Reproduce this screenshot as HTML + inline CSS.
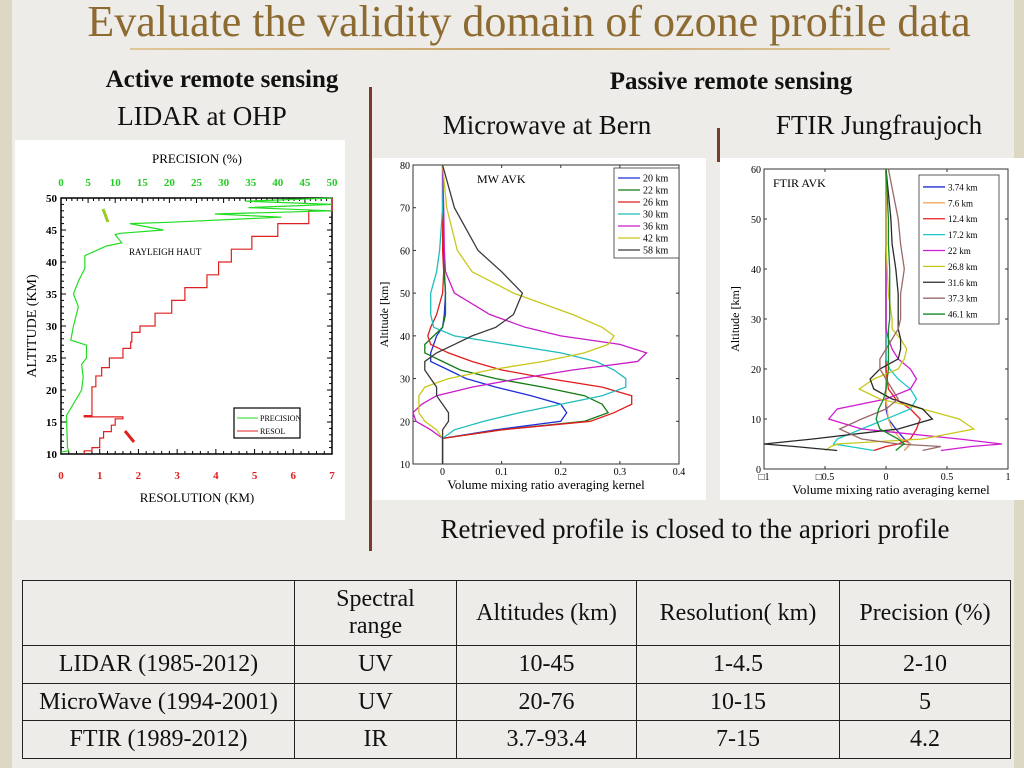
<!DOCTYPE html>
<html><head><meta charset="utf-8"><style>
body{margin:0;width:1024px;height:768px;background:#edece8;position:relative;overflow:hidden;font-family:"Liberation Serif",serif;}
.t{position:absolute;white-space:nowrap;color:#111;}
.c{transform:translateX(-50%);}
table{position:absolute;left:22px;top:580px;border-collapse:collapse;font-size:24px;color:#111;}
td{border:1.5px solid #222;text-align:center;padding:0;line-height:27px;}
svg text{font-family:"Liberation Serif",serif;}
</style></head><body>
<div style="position:absolute;left:0;top:0;width:12px;height:768px;background:#dcd8c4"></div>
<div style="position:absolute;right:0;top:0;width:10px;height:768px;background:#dcd8c4"></div>
<div class="t c" style="left:529px;top:-4px;font-size:44px;color:#8d6a30">Evaluate the validity domain of ozone profile data</div>
<div style="position:absolute;left:130px;top:48px;width:760px;height:2px;background:linear-gradient(90deg,#e0c79a,#c9a46a,#e0c79a)"></div>
<div class="t c" style="left:222px;top:66px;font-size:25px;font-weight:bold">Active remote sensing</div>
<div class="t c" style="left:202px;top:101px;font-size:27px">LIDAR at OHP</div>
<div class="t c" style="left:731px;top:68px;font-size:25px;font-weight:bold">Passive remote sensing</div>
<div class="t c" style="left:547px;top:110px;font-size:27px">Microwave at Bern</div>
<div class="t c" style="left:879px;top:110px;font-size:27px">FTIR Jungfraujoch</div>
<div style="position:absolute;left:369px;top:87px;width:3px;height:464px;background:#7a3b2c"></div>
<div style="position:absolute;left:717px;top:128px;width:3px;height:34px;background:#7a3b2c"></div>
<div class="t c" style="left:695px;top:514px;font-size:27px">Retrieved profile is closed to the apriori profile</div>

<svg width="1024" height="768" style="position:absolute;left:0;top:0">
<rect x="15" y="140" width="330" height="380" fill="#fff"/>
<rect x="373" y="158" width="333" height="342" fill="#fff"/>
<rect x="720" y="158" width="304" height="342" fill="#fff"/>
<g id="lidar"></g><g id="mw"></g><g id="ftir"></g>
</svg>

<table>
<tr style="height:65px"><td style="width:271px"></td><td style="width:161px">Spectral<br>range</td><td style="width:179px">Altitudes (km)</td><td style="width:202px">Resolution( km)</td><td style="width:170px">Precision (%)</td></tr>
<tr style="height:38px"><td>LIDAR (1985-2012)</td><td>UV</td><td>10-45</td><td>1-4.5</td><td>2-10</td></tr>
<tr style="height:37px"><td>MicroWave (1994-2001)</td><td>UV</td><td>20-76</td><td>10-15</td><td>5</td></tr>
<tr style="height:38px"><td>FTIR (1989-2012)</td><td>IR</td><td>3.7-93.4</td><td>7-15</td><td>4.2</td></tr>
</table>

<script>
// LIDAR data
const lidarResAlt=[10.5,11,12.5,13.5,14.5,15.5,15.8,16,20.5,22.2,23.5,25,26.5,27.5,29,30,32,34,36,38,40,42,44,46,48,50];
const lidarRes=[0.6,0.8,1.0,1.1,1.3,1.4,1.6,0.6,0.8,0.9,1.05,1.25,1.6,1.8,1.83,2.04,2.43,2.86,3.2,3.77,4.07,4.4,4.93,5.6,6.4,7];
const lidarPrecAlt=[10.3,10.5,11,16,20,22,24,25,27,27.8,30,33,35,37,39,41,42.5,43,44.3,44.5,45,46,46.2,47,47.5,48,48.5,49,49.5,50];
const lidarPrec=[0,1.4,1.2,1.0,3.8,4.1,3.8,4.7,4.7,1.8,2.3,3.2,2.3,3.2,4.4,4.4,8.4,11.2,10,11.2,18.9,12.7,19.8,40.7,28.4,50,34.6,50,34,50];
const resTicks=[0,1,2,3,4,5,6,7];
const precTicks=[0,5,10,15,20,25,30,35,40,45,50];
const altTicksL=[10,15,20,25,30,35,40,45,50];
// MW data
const mwAlt=[10,16,18,20,22,24,26,28,30,32,34,36,38,40,42,45,50,55,60,70,80];
const mwLabels=['20 km','22 km','26 km','30 km','36 km','42 km','58 km'];
const mwColors=['#1f2fd8','#137a13','#e01c1c','#1fbcbc','#c81cc8','#c8c81c','#3a3a3a'];
const mw20=[0,0,0.09,0.2,0.21,0.2,0.15,0.09,0.04,0.01,-0.02,-0.02,-0.015,-0.01,0,0.003,0.005,0.003,0.002,0,0];
const mw22=[0,0,0.1,0.24,0.28,0.27,0.24,0.17,0.09,0.03,0,-0.03,-0.03,-0.015,0,0.005,0.005,0.003,0.002,0,0];
const mw26=[0,0,0.1,0.25,0.29,0.32,0.32,0.27,0.18,0.1,0.05,0.01,-0.02,-0.025,-0.02,-0.01,0,0.002,0,0,0];
const mw30=[0,0,0.02,0.07,0.13,0.2,0.27,0.31,0.31,0.29,0.26,0.2,0.11,0.02,-0.015,-0.02,-0.02,-0.01,-0.005,0,0];
const mw36=[0,0,-0.02,-0.045,-0.05,-0.035,-0.01,0.05,0.13,0.22,0.33,0.345,0.3,0.2,0.14,0.08,0.02,0.005,0.003,0.002,0];
const mw42=[0,0,-0.01,-0.03,-0.04,-0.04,-0.04,-0.03,0.01,0.08,0.17,0.24,0.28,0.29,0.27,0.22,0.12,0.05,0.025,0.007,0];
const mw58=[0,0,0,0.01,0.01,0,-0.01,-0.01,-0.02,-0.03,-0.03,-0.01,0.02,0.05,0.09,0.12,0.135,0.1,0.06,0.02,0];
const mwXTicks=[0,0.1,0.2,0.3,0.4];
const mwYTicks=[10,20,30,40,50,60,70,80];
// FTIR data
const ftAlt=[3.7,4.5,5,6,8,10,12,14,16,18,20,22,24,26,28,30,35,40,45,50,60];
const ftLabels=['3.74 km','7.6 km','12.4 km','17.2 km','22 km','26.8 km','31.6 km','37.3 km','46.1 km'];
const ftColors=['#1f2fd8','#f0a860','#e81c1c','#1fc8c8','#d01cd0','#c8c81c','#2a2a2a','#9a6a6a','#138a23'];
const ft1=[0.15,0.18,0.2,0.15,0.08,0.02,0,0,0,0,0,0,0,0,0,0,0,0,0,0,0];
const ft2=[0.15,0.18,0.2,0.12,0.05,0.02,0.01,0,0,0,0,0,0,0,0,0,0,0,0,0,0];
const ft3=[-0.1,0,0.1,0.2,0.25,0.28,0.2,0.08,0.02,0.01,0,0,0,0,0,0,0,0,0,0,0];
const ft4=[-0.1,-0.3,-0.43,-0.4,-0.2,0,0.2,0.25,0.2,0.1,0.03,0,0,0,0,0,0,0,0,0,0];
const ft5=[0.45,0.7,0.95,0.6,-0.2,-0.47,-0.4,0,0.2,0.25,0.2,0.1,0.05,0.02,0,0,0,0,0,0,0];
const ft6=[-0.5,-0.45,-0.4,0.3,0.72,0.6,0.3,-0.05,-0.22,-0.1,0.1,0.15,0.17,0.12,0.05,0.05,0.02,0.01,0,0,0];
const ft7=[-0.4,-0.75,-1.0,-0.6,0.1,0.38,0.3,0.05,-0.1,-0.13,-0.05,0.1,0.12,0.12,0.1,0.1,0.1,0.08,0.05,0.04,0];
const ft8=[0.3,0.45,0.1,-0.2,-0.38,-0.2,0,0.1,0.05,0,-0.05,-0.05,0,0.05,0.1,0.12,0.12,0.15,0.12,0.1,0.02];
const ft9=[0.08,0.12,0.15,0.1,-0.05,-0.08,-0.06,-0.02,0,0.01,0.02,0.02,0.02,0.02,0.02,0.03,0.03,0.03,0.02,0.02,0];
const ftXTicks=[-1,-0.5,0,0.5,1];
const ftXTickLabels=['\u25A11','\u25A10.5','0','0.5','1'];
const ftYTicks=[0,10,20,30,40,50,60];

const NS='http://www.w3.org/2000/svg';
function mk(parent,tag,attrs,txt){const e=document.createElementNS(NS,tag);for(const k in attrs)e.setAttribute(k,attrs[k]);if(txt!==undefined)e.textContent=txt;parent.appendChild(e);return e;}
function lin(d0,d1,r0,r1){return v=>r0+(v-d0)/(d1-d0)*(r1-r0);}

// ---- LIDAR ----
(function(){
const g=document.getElementById('lidar');
const L=61,R=332,T=198,B=454;
const xr=lin(0,7,L,R), xp=lin(0,50,L,R), y=lin(10,50,B,T);
let e=mk(g,'rect',{x:L,y:T,width:R-L,height:B-T,fill:'#fff',stroke:'#000','stroke-width':1.5});

for(let a=10;a<=50;a++){const len=a%5===0?5:3;mk(g,'line',{x1:L,x2:L+len,y1:y(a),y2:y(a),stroke:'#000'});mk(g,'line',{x1:R,x2:R-len,y1:y(a),y2:y(a),stroke:'#000'});}
for(let v=0;v<=7;v+=0.2){mk(g,'line',{x1:xr(v),x2:xr(v),y1:B,y2:B-(Math.abs(v-Math.round(v))<0.01?5:3),stroke:'#000'});}
for(let v=0;v<=50;v+=1){mk(g,'line',{x1:xp(v),x2:xp(v),y1:T,y2:T+(v%5===0?5:3),stroke:'#000'});}
altTicksL.forEach(a=>{e=mk(g,'text',{x:L-4,y:y(a)+4,'text-anchor':'end','font-size':11,'font-weight':'bold','font-family':'Liberation Sans'},a);});
resTicks.forEach(v=>{e=mk(g,'text',{x:xr(v),y:479,'text-anchor':'middle','font-size':11,'font-weight':'bold',fill:'#e02020','font-family':'Liberation Sans'},v);});
precTicks.forEach(v=>{e=mk(g,'text',{x:xp(v),y:186,'text-anchor':'middle','font-size':11,'font-weight':'bold',fill:'#22cc22','font-family':'Liberation Sans'},v);});
e=mk(g,'text',{x:197,y:163,'text-anchor':'middle','font-size':13},'PRECISION (%)');
e=mk(g,'text',{x:197,y:502,'text-anchor':'middle','font-size':13},'RESOLUTION (KM)');
e=mk(g,'text',{x:0,y:0,'text-anchor':'middle','font-size':14,transform:'translate(36,326) rotate(-90)'},'ALTITUDE (KM)');
e=mk(g,'text',{x:129,y:255,'font-size':9,'font-family':'Liberation Sans'},'RAYLEIGH HAUT');
let d='M'+xr(lidarRes[0])+','+y(10);
for(let i=0;i<lidarRes.length;i++){d+=' H'+xr(lidarRes[i])+' V'+y(lidarResAlt[i]);}
e=mk(g,'path',{d:d,fill:'none',stroke:'#e02020','stroke-width':1.2});
d=lidarPrec.map((v,i)=>(i?'L':'M')+xp(v)+','+y(lidarPrecAlt[i])).join(' ');
e=mk(g,'path',{d:d,fill:'none',stroke:'#22dd22','stroke-width':1.2});
e=mk(g,'rect',{x:234,y:408,width:66,height:30,fill:'#fff',stroke:'#000','stroke-width':1.2});
mk(g,'line',{x1:237,x2:258,y1:418,y2:418,stroke:'#22dd22'});mk(g,'text',{x:260,y:421,'font-size':8,'font-family':'Liberation Sans'},'PRECISION');
mk(g,'line',{x1:237,x2:258,y1:431,y2:431,stroke:'#e02020'});mk(g,'text',{x:260,y:434,'font-size':8,'font-family':'Liberation Sans'},'RESOL');
e=mk(g,'line',{x1:103,y1:209,x2:108,y2:222,stroke:'#99cc22','stroke-width':3});
e=mk(g,'line',{x1:125,y1:431,x2:134,y2:442,stroke:'#e02020','stroke-width':3});
})();

function avk(gid,box,xd,yd,alt,series,colors,labels,xticks,xlabels,yticks,title,leg,ids){
const g=document.getElementById(gid);
const [L,R,T,B]=box;const x=lin(xd[0],xd[1],L,R), y=lin(yd[0],yd[1],B,T);
let e=mk(g,'rect',{x:L,y:T,width:R-L,height:B-T,fill:'#fff',stroke:'#333','stroke-width':1});

xticks.forEach((v,i)=>{mk(g,'line',{x1:x(v),x2:x(v),y1:B,y2:B-3,stroke:'#333'});mk(g,'line',{x1:x(v),x2:x(v),y1:T,y2:T+3,stroke:'#333'});
 e=mk(g,'text',{x:x(v),y:B+11,'text-anchor':'middle','font-size':10},xlabels[i]);});
yticks.forEach(v=>{mk(g,'line',{x1:L,x2:L+3,y1:y(v),y2:y(v),stroke:'#333'});mk(g,'line',{x1:R,x2:R-3,y1:y(v),y2:y(v),stroke:'#333'});
 e=mk(g,'text',{x:L-3,y:y(v)+4,'text-anchor':'end','font-size':10},v);});
e=mk(g,'text',{x:(L+R)/2+ (gid==='ftir'?5:0),y:B+25,'text-anchor':'middle','font-size':13},'Volume mixing ratio averaging kernel');
e=mk(g,'text',{x:0,y:0,'text-anchor':'middle','font-size':12,transform:'translate('+(L-25)+','+((T+B)/2)+') rotate(-90)'},'Altitude [km]');
e=mk(g,'text',{x:title[1],y:title[2],'font-size':12},title[0]);
series.forEach((s,k)=>{const d=s.map((v,i)=>(i?'L':'M')+x(v).toFixed(1)+','+y(alt[i]).toFixed(1)).join(' ');
 e=mk(g,'path',{d:d,fill:'none',stroke:colors[k],'stroke-width':1.3});});
const [lx,ly,lw,lh]=leg;const step=(lh-6)/labels.length;
e=mk(g,'rect',{x:lx,y:ly,width:lw,height:lh,fill:'#fff',stroke:'#333','stroke-width':0.8});
labels.forEach((t,k)=>{const yy=ly+4+step*(k+0.5);mk(g,'line',{x1:lx+4,x2:lx+26,y1:yy,y2:yy,stroke:colors[k],'stroke-width':1.3});
 e=mk(g,'text',{x:lx+29,y:yy+3.5,'font-size':gid==='ftir'?9:10},t);});
}
avk('mw',[413,679,165,464],[-0.05,0.4],[10,80],mwAlt,[mw20,mw22,mw26,mw30,mw36,mw42,mw58],mwColors,mwLabels,mwXTicks,mwXTicks.map(String),mwYTicks,['MW AVK',477,183],[614,168,65,90],
 ['mw-line-20km','mw-line-22km','mw-line-26km','mw-line-30km','mw-line-36km','mw-line-42km','mw-line-58km']);
avk('ftir',[764,1008,169,469],[-1,1],[0,60],ftAlt,[ft1,ft2,ft3,ft4,ft5,ft6,ft7,ft8,ft9],ftColors,ftLabels,ftXTicks,ftXTickLabels,ftYTicks,['FTIR AVK',773,187],[919,175,80,149],
 ['ftir-line-3-74km','ftir-line-7-6km','ftir-line-12-4km','ftir-line-17-2km','ftir-line-22km','ftir-line-26-8km','ftir-line-31-6km','ftir-line-37-3km','ftir-line-46-1km']);
</script>
</body></html>
